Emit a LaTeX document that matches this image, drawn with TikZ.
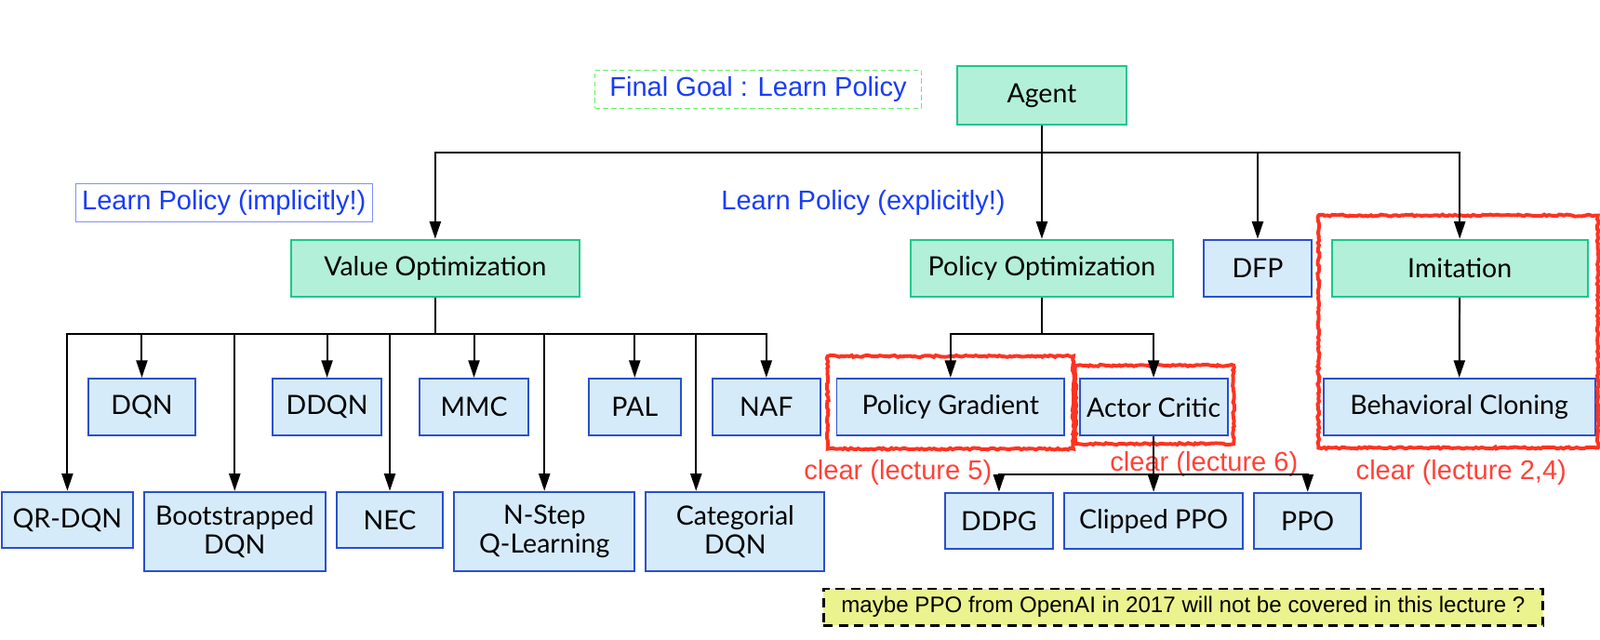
\documentclass[tikz,border=0pt]{standalone}
\usepackage{fontspec}
\setmainfont{Lato}
\newfontfamily\arialf{Liberation Sans}
\usetikzlibrary{arrows.meta,decorations.pathmorphing,calc}
\definecolor{gfill}{HTML}{B3F0D9}
\definecolor{gline}{HTML}{1CC98A}
\definecolor{bfill}{HTML}{D6EBFA}
\definecolor{bline}{HTML}{2A50CC}
\definecolor{btext}{HTML}{1A3DF5}
\definecolor{bthin}{HTML}{8090FF}
\definecolor{dgreen}{HTML}{66EE66}
\definecolor{rline}{HTML}{FF3322}
\definecolor{rtext}{HTML}{FF4238}
\definecolor{notefill}{HTML}{EBF38E}
\tikzset{
  boxfont/.style={font=\fontsize{26}{28}\selectfont},
  gbox/.style={draw=gline, fill=gfill, line width=1.8pt, boxfont, inner sep=0pt, align=center},
  bbox/.style={draw=bline, fill=bfill, line width=1.8pt, boxfont, inner sep=0pt, align=center},
  arr/.style={line width=1.8pt, -{Triangle[length=17pt,width=11pt]}},
  redrough/.style={draw=rline, line width=3.6pt, decorate, decoration={random steps, segment length=2.5pt, amplitude=0.9pt}},
  bluelbl/.style={text=btext, font=\arialf\fontsize{26.5}{30}\selectfont, inner sep=0pt},
  redlbl/.style={text=rtext, font=\arialf\fontsize{26.5}{30}\selectfont, inner sep=0pt},
}
\begin{document}
\begin{tikzpicture}[x=1pt,y=-1pt]
\useasboundingbox (0,0) rectangle (1568,626.3);
% top level
\node[gbox, minimum width=166pt, minimum height=57pt] (agent) at (1021,93.5) {Agent};
\node[bluelbl, draw=dgreen, line width=0.9pt, dash pattern=on 5pt off 3pt, minimum width=320pt, minimum height=37pt] (goal) at (743,87.5) {Final Goal : Learn Policy};
\node[bluelbl, draw=bthin, line width=0.9pt, minimum width=291pt, minimum height=37pt] (impl) at (219.5,198.5) {Learn Policy (implicitly!)};
\node[bluelbl] (expl) at (846,199) {Learn Policy (explicitly!)};
% second level
\node[gbox, minimum width=283pt, minimum height=56pt] (vo) at (426.5,263) {Value Optimization};
\node[gbox, minimum width=257pt, minimum height=56pt] (po) at (1021,263) {Policy Optimization};
\node[bbox, minimum width=105pt, minimum height=56pt] (dfp) at (1232.5,263) {DFP};
\node[gbox, minimum width=251pt, minimum height=56pt] (imit) at (1430.5,263) {Imitation};
% third level
\node[bbox, minimum width=105pt, minimum height=56pt] (dqn) at (139,399) {DQN};
\node[bbox, minimum width=107pt, minimum height=56pt] (ddqn) at (320.5,399) {DDQN};
\node[bbox, minimum width=107pt, minimum height=56pt] (mmc) at (464.5,399) {MMC};
\node[bbox, minimum width=90pt, minimum height=56pt] (pal) at (622,399) {PAL};
\node[bbox, minimum width=106pt, minimum height=56pt] (naf) at (751,399) {NAF};
\node[bbox, minimum width=223pt, minimum height=56pt] (pg) at (931.5,399) {Policy Gradient};
\node[bbox, minimum width=145pt, minimum height=56pt] (ac) at (1130.5,399) {Actor Critic};
\node[bbox, minimum width=266pt, minimum height=56pt] (bc) at (1430,399) {Behavioral Cloning};
% fourth level
\node[bbox, minimum width=128pt, minimum height=55pt] (qr) at (66,509.5) {QR-DQN};
\node[bbox, minimum width=178pt, minimum height=78pt] (boot) at (230,521) {Bootstrapped\\DQN};
\node[bbox, minimum width=104pt, minimum height=55pt] (nec) at (382,509.5) {NEC};
\node[bbox, minimum width=177pt, minimum height=78pt] (nstep) at (533.5,521) {N-Step\\Q-Learning};
\node[bbox, minimum width=175pt, minimum height=78pt] (cat) at (720.5,521) {Categorial\\DQN};
\node[bbox, minimum width=106pt, minimum height=55pt] (ddpg) at (979,510.5) {DDPG};
\node[bbox, minimum width=175pt, minimum height=55pt] (cppo) at (1130.5,510.5) {Clipped PPO};
\node[bbox, minimum width=105pt, minimum height=55pt] (ppo) at (1281.5,510.5) {PPO};
% red highlight frames
\draw[redrough] ([shift={(-8,-21)}]pg.north west) rectangle ([shift={(8,12)}]pg.south east);
\draw[redrough] ([shift={(-3,-12)}]ac.north west) rectangle ([shift={(5,7)}]ac.south east);
\draw[redrough] ([shift={(-12,-23)}]imit.north west) rectangle ([shift={(2,11)}]bc.south east);
\node[redlbl] (lec5) at (880,463) {clear (lecture 5)};
\node[redlbl] (lec6) at (1180,455) {clear (lecture 6)};
\node[redlbl] (lec24) at (1432,463) {clear (lecture 2,4)};
% note
\node[draw=black, fill=notefill, line width=2.5pt, dash pattern=on 9pt off 6pt, minimum width=705pt, minimum height=36pt, inner sep=0pt, font=\arialf\fontsize{22}{24}\selectfont] (note) at (1159.5,595) {maybe PPO from OpenAI in 2017 will not be covered in this lecture ?};
% connectors
\draw[arr] (agent.south) -- ++(0,27) -| (vo.north);
\draw[arr] (agent) -- (po);
\draw[arr] (agent.south) -- ++(0,27) -| (dfp.north);
\draw[arr] (agent.south) -- ++(0,27) -| (imit.north);
\foreach \t in {qr,dqn,boot,ddqn,nec,mmc,nstep,pal,naf}
  \draw[arr] (vo.south) -- ++(0,35) -| (\t.north);
\draw[arr] (vo.south) -- ++(0,35) -| ($(cat.north west)!0.283!(cat.north east)$);
\draw[arr] (po.south) -- ++(0,35) -| (pg.north);
\draw[arr] (po.south) -- ++(0,35) -| (ac.north);
\draw[arr] (ac.south) -- ++(0,37) -| (ddpg.north);
\draw[arr] (ac) -- (cppo);
\draw[arr] (ac.south) -- ++(0,37) -| (ppo.north);
\draw[arr] (imit) -- (bc);
\end{tikzpicture}
\end{document}
